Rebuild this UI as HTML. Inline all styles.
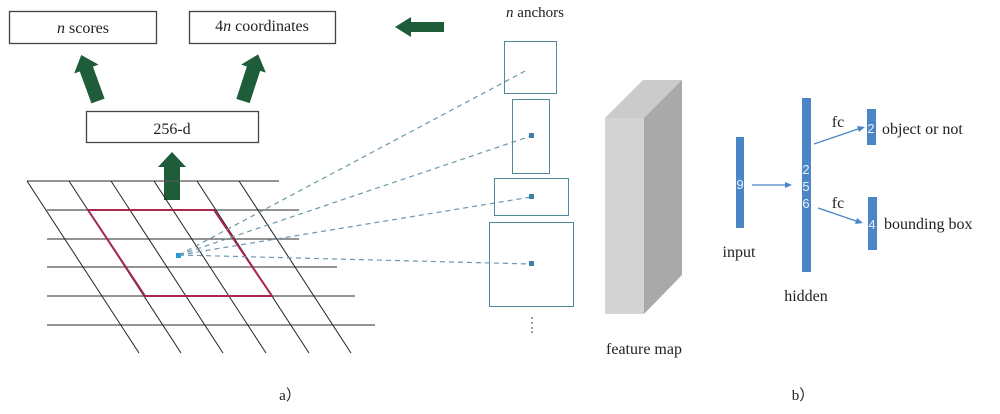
<!DOCTYPE html>
<html><head><meta charset="utf-8"><style>
html,body{margin:0;padding:0;background:#fff;width:1000px;height:414px;overflow:hidden}
svg text{font-family:"Liberation Serif",serif;fill:#222}
svg text.d{fill:#e8f0fa;font-family:"Liberation Sans",sans-serif;font-size:13px}
</style></head><body>
<svg width="1000" height="414" viewBox="0 0 1000 414" xmlns="http://www.w3.org/2000/svg">
<g fill="#fff" stroke="#444" stroke-width="1.3">
<rect x="9.5" y="11.5" width="147" height="32"/>
<rect x="189.5" y="11.5" width="146" height="32"/>
<rect x="86.5" y="111.5" width="172" height="31"/>
</g>
<text x="83" y="33" font-size="16" text-anchor="middle"><tspan font-style="italic">n</tspan> scores</text>
<text x="262" y="31" font-size="16" text-anchor="middle">4<tspan font-style="italic">n</tspan> coordinates</text>
<text x="172" y="134" font-size="16" text-anchor="middle">256-d</text>
<g fill="#1e5c3a">
<polygon points="164,200 180,200 180,167 186,167 172,152 158,167 164,167"/>
<g transform="translate(98,101) rotate(-20)"><polygon points="-7,0 7,0 7,-34 13,-34 0,-49 -13,-34 -7,-34"/></g>
<g transform="translate(243,101) rotate(18)"><polygon points="-7,0 7,0 7,-34 13,-34 0,-49 -13,-34 -7,-34"/></g>
<polygon points="395,27 411,17 411,22 444,22 444,32 411,32 411,37"/>
</g>
<g stroke="#555" stroke-width="1.3">
<line x1="27" y1="181" x2="279" y2="181"/>
<line x1="47" y1="210" x2="299" y2="210"/>
<line x1="47" y1="239" x2="299" y2="239"/>
<line x1="47" y1="267" x2="337" y2="267"/>
<line x1="47" y1="296" x2="355" y2="296"/>
<line x1="47" y1="325" x2="375" y2="325"/>
</g>
<g stroke="#222" stroke-width="1">
<line x1="27" y1="181" x2="139" y2="353"/>
<line x1="69" y1="181" x2="181" y2="353"/>
<line x1="111" y1="181" x2="223" y2="353"/>
<line x1="154" y1="181" x2="266" y2="353"/>
<line x1="197" y1="181" x2="309" y2="353"/>
<line x1="239" y1="181" x2="351" y2="353"/>
</g>
<polygon points="88,210 214,210 272,296 145,296" fill="none" stroke="#a8274a" stroke-width="2"/>
<g stroke="#6d97ad" stroke-width="1.2" stroke-dasharray="5,4" fill="none">
<line x1="179" y1="255" x2="527" y2="70"/>
<line x1="179" y1="255" x2="531" y2="136"/>
<line x1="179" y1="255" x2="531" y2="197"/>
<line x1="179" y1="255" x2="531" y2="264"/>
</g>
<rect x="176" y="253" width="5" height="5" fill="#2a9ad6"/>
<text x="535" y="17" font-size="15" text-anchor="middle"><tspan font-style="italic">n</tspan> anchors</text>
<g fill="none" stroke="#4e8a99" stroke-width="1">
<rect x="504.5" y="41.5" width="52" height="52"/>
<rect x="512.5" y="99.5" width="37" height="74"/>
<rect x="494.5" y="178.5" width="74" height="37"/>
<rect x="489.5" y="222.5" width="84" height="84"/>
</g>
<g fill="#3f7fa8">
<rect x="529" y="133" width="5" height="5"/>
<rect x="529" y="194" width="5" height="5"/>
<rect x="529" y="261" width="5" height="5"/>
</g>
<g fill="#555"><circle cx="532" cy="318" r="0.9"/><circle cx="532" cy="323" r="0.9"/><circle cx="532" cy="328" r="0.9"/><circle cx="532" cy="332" r="0.9"/></g>
<polygon points="605,118 644,118 682,80 643,80" fill="#cbcbcb"/>
<rect x="605" y="118" width="39" height="196" fill="#d3d3d3"/>
<polygon points="644,118 682,80 682,275 644,314" fill="#a9a9a9"/>
<text x="644" y="354" font-size="16" text-anchor="middle">feature map</text>
<g fill="#4a86c5">
<rect x="736" y="137" width="8" height="91"/>
<rect x="802" y="98" width="9" height="174"/>
<rect x="867" y="109" width="9" height="36"/>
<rect x="868" y="197" width="9" height="53"/>
</g>
<text class="d" x="740" y="189" text-anchor="middle">9</text>
<text class="d" x="806" y="174" text-anchor="middle">2</text>
<text class="d" x="806" y="191" text-anchor="middle">5</text>
<text class="d" x="806" y="208" text-anchor="middle">6</text>
<text class="d" x="871" y="133" text-anchor="middle">2</text>
<text class="d" x="872" y="229" text-anchor="middle">4</text>
<g stroke="#4a86c5" stroke-width="1.3" fill="#4a86c5">
<line x1="752" y1="185" x2="788" y2="185"/><polygon points="792,185 785,182 785,188" stroke="none"/>
<line x1="814" y1="144" x2="861" y2="128"/><polygon points="865,127 857,126 859,132" stroke="none"/>
<line x1="818" y1="208" x2="859" y2="222"/><polygon points="863,223 857,218 855,224" stroke="none"/>
</g>
<g font-size="16">
<text x="838" y="127" text-anchor="middle">fc</text>
<text x="838" y="208" text-anchor="middle">fc</text>
<text x="882" y="134">object or not</text>
<text x="884" y="229">bounding box</text>
<text x="739" y="257" text-anchor="middle">input</text>
<text x="806" y="301" text-anchor="middle">hidden</text>
</g>
<text x="290" y="400" font-size="15" text-anchor="middle">a）</text>
<text x="803" y="400" font-size="15" text-anchor="middle">b）</text>
</svg>
</body></html>
